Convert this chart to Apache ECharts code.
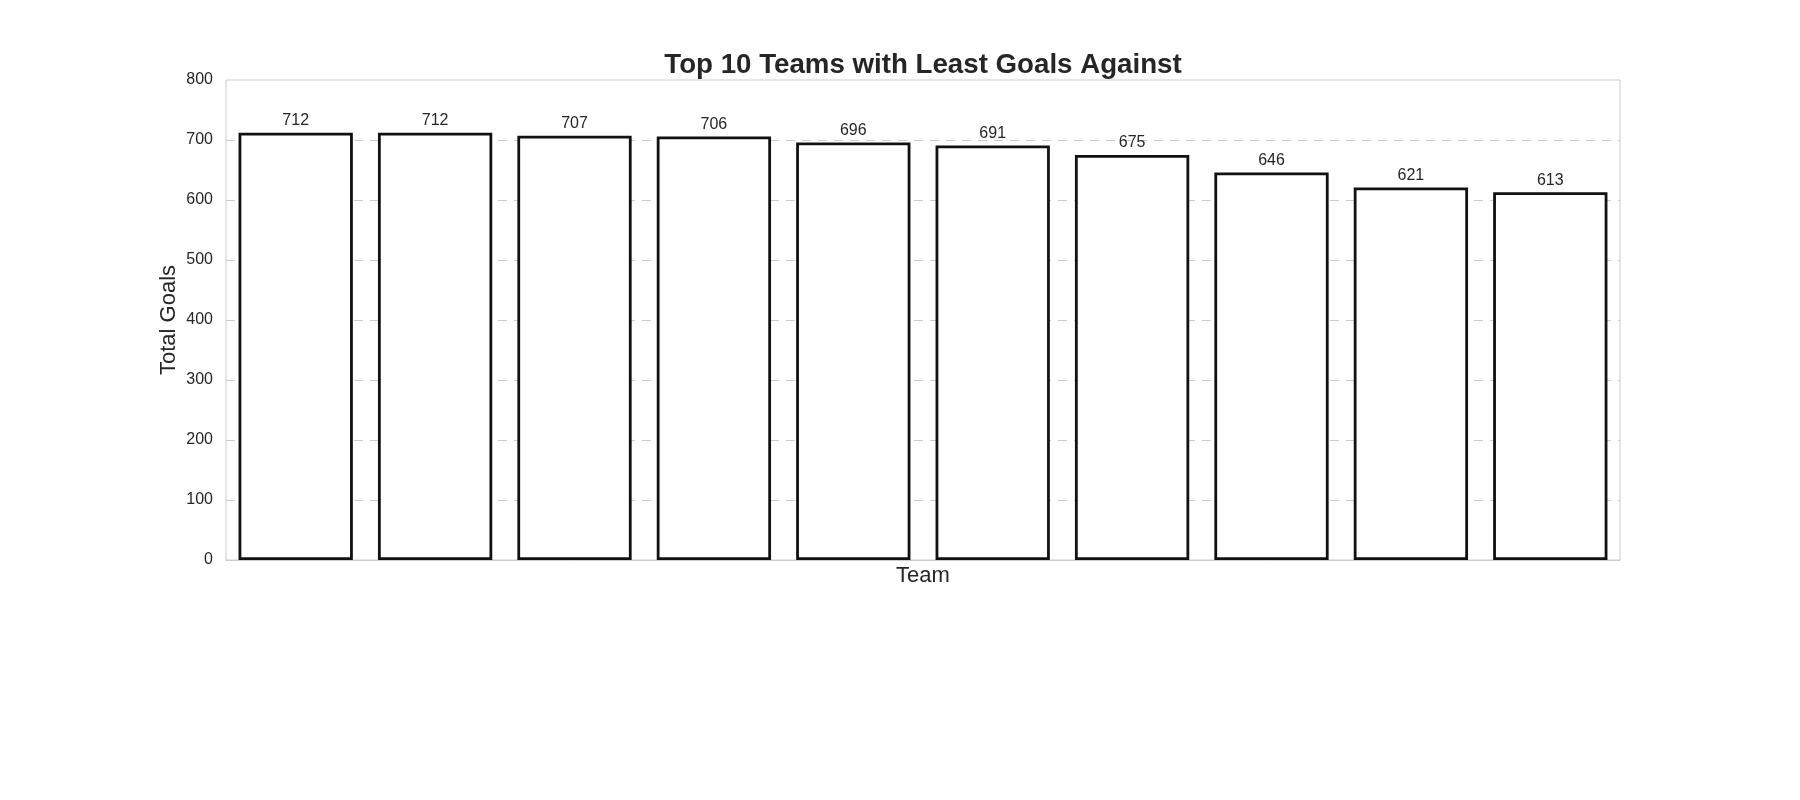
<!DOCTYPE html>
<html>
<head>
<meta charset="utf-8">
<script src="https://cdn.jsdelivr.net/npm/echarts@6/dist/echarts.min.js"></script>
<style>
  html, body { margin: 0; padding: 0; background: #ffffff; }
  #chart { width: 1800px; height: 800px; }
</style>
</head>
<body>
<div id="chart"></div>
<script>
// Team names are not shown on the reference's x-axis; placeholders keep category order.
const categories = ['Team 1', 'Team 2', 'Team 3', 'Team 4', 'Team 5', 'Team 6', 'Team 7', 'Team 8', 'Team 9', 'Team 10'];
const totalGoals = [712, 712, 707, 706, 696, 691, 675, 646, 621, 613];
const yTicks = { min: 0, max: 800, interval: 100 };

const FONT = "'Liberation Sans', Arial, sans-serif";
const TEXT = '#262626';

const chart = echarts.init(document.getElementById('chart'), null, { renderer: 'canvas' });
chart.setOption({
  backgroundColor: '#ffffff',
  animation: false,
  title: {
    text: 'Top 10 Teams with Least Goals Against',
    left: 923,
    textAlign: 'center',
    top: 51,
    padding: 0,
    textStyle: { fontFamily: FONT, fontSize: 27.7, fontWeight: 'bold', color: TEXT }
  },
  grid: {
    left: 226, right: 180, top: 80, bottom: 240,
    show: true, borderColor: '#cccccc', borderWidth: 1, backgroundColor: 'transparent',
    containLabel: false
  },
  xAxis: {
    type: 'category',
    data: categories,
    name: 'Team',
    nameLocation: 'middle',
    nameGap: 5,
    nameMoveOverlap: false,
    nameTextStyle: { fontFamily: FONT, fontSize: 22, color: TEXT, verticalAlign: 'top' },
    axisLine: { show: true, lineStyle: { color: '#cccccc', width: 1 } },
    axisTick: { show: false },
    axisLabel: { show: false },
    splitLine: { show: false }
  },
  yAxis: {
    type: 'value',
    min: yTicks.min, max: yTicks.max, interval: yTicks.interval,
    name: 'Total Goals',
    nameLocation: 'middle',
    nameGap: 46,
    nameMoveOverlap: false,
    nameRotate: 90,
    nameTextStyle: { fontFamily: FONT, fontSize: 22, color: TEXT },
    axisLine: { show: false },
    axisTick: { show: false },
    axisLabel: { fontFamily: FONT, fontSize: 16, color: TEXT, margin: 13 },
    splitLine: { show: true, showMinLine: false, showMaxLine: false, lineStyle: { color: '#cccccc', width: 1, type: [9, 7] } }
  },
  series: [{
    type: 'bar',
    data: totalGoals,
    barCategoryGap: '18%',
    itemStyle: { color: '#ffffff', borderColor: '#111111', borderWidth: 2.8 },
    label: {
      show: true, position: 'top', distance: 4,
      fontFamily: FONT, fontSize: 16, color: TEXT
    }
  }]
});
</script>
</body>
</html>
